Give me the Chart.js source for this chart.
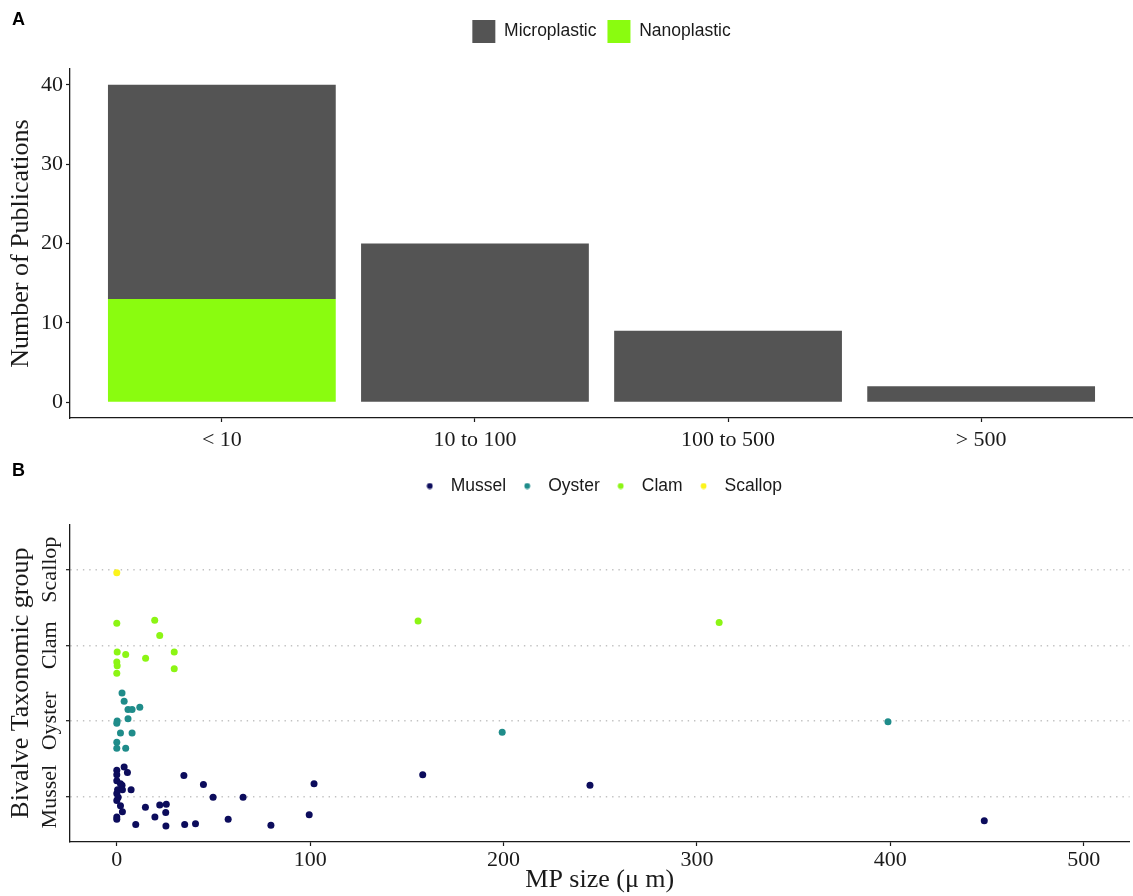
<!DOCTYPE html>
<html>
<head>
<meta charset="utf-8">
<title>Microplastic size in bivalve studies</title>
<script src="https://cdn.jsdelivr.net/npm/chart.js@4.4.1/dist/chart.umd.min.js"></script>
<style>
  body { margin: 0; background: #fff; }
  #page { position: relative; width: 1133px; height: 896px; overflow: hidden; }
  #chartA { position: absolute; left: 0; top: 0; }
  #chartB { position: absolute; left: 0; top: 455px; }
  .tag { position: absolute; left: 12px; font: bold 18px "Liberation Sans", Arial, sans-serif; line-height: 1; color: #000; }
</style>
</head>
<body>
<div id="page">
  <canvas id="chartA" width="1133" height="455"></canvas>
  <canvas id="chartB" width="1133" height="441"></canvas>
  <div class="tag" style="top:10px">A</div>
  <div class="tag" style="top:461px">B</div>
</div>
<script>
// Panel A: number of publications per MP size class
const sizeClasses = ['< 10', '10 to 100', '100 to 500', '> 500'];
const microCounts = [27, 20, 9, 2];
const nanoCounts = [13, 0, 0, 0];
const countTicks = [0, 10, 20, 30, 40];

// Panel B: MP size used per bivalve group (position = group index + jitter)
const speciesNames = ['Mussel', 'Oyster', 'Clam', 'Scallop'];
const musselSize = [0, 3.8, 5.5, 0, 0, 2.7, 1.9, 0.4, 2.9, 7.4, 0, 0.7, 0, 1.9, 2.9, 0, 0, 9.8, 14.8, 19.7, 22.2, 25.6, 25.3, 25.4, 34.7, 35.1, 40.7, 44.8, 49.8, 57.6, 65.3, 79.7, 99.5, 102, 158.2, 244.7, 448.6];
const musselPos = [1.35, 1.39, 1.32, 1.29, 1.21, 1.15, 1.17, 1.09, 1.09, 1.09, 1.04, 0.99, 0.95, 0.88, 0.80, 0.73, 0.70, 0.63, 0.86, 0.73, 0.89, 0.90, 0.79, 0.61, 1.28, 0.63, 0.64, 1.16, 0.99, 0.70, 0.99, 0.62, 0.76, 1.17, 1.29, 1.15, 0.68];
const oysterSize = [2.7, 3.8, 5.8, 7.9, 11.9, 5.8, 0.2, 0, 1.9, 7.9, 0, 0, 4.6, 199.3, 398.8];
const oysterPos = [2.37, 2.26, 2.15, 2.15, 2.18, 2.03, 2.00, 1.97, 1.84, 1.84, 1.72, 1.64, 1.64, 1.85, 1.99];
const clamSize = [0, 19.6, 22.2, 0.2, 4.6, 14.9, 29.7, 0, 0.2, 0, 29.7, 155.8, 311.5];
const clamPos = [3.29, 3.33, 3.13, 2.91, 2.88, 2.83, 2.91, 2.78, 2.73, 2.63, 2.69, 3.32, 3.30];
const scallopSize = [0];
const scallopPos = [3.96];
const sizeTicks = [0, 100, 200, 300, 400, 500];

const SERIF = '"Liberation Serif", "Times New Roman", serif';
const SANS = '"Liberation Sans", Arial, sans-serif';
const INK = '#1a1a1a';
const speciesColors = ['#0c0c5c', '#1f8c8a', '#8cf514', '#fcf41c'];

function toPoints(xs, ys) {
    return xs.map((x, i) => ({ x: x, y: ys[i] }));
}

// small round marker used as legend symbol
function legendDot(color) {
    const c = document.createElement('canvas');
    c.width = 7;
    c.height = 7;
    const g = c.getContext('2d');
    g.fillStyle = color;
    g.beginPath();
    g.arc(3.5, 3.5, 2.9, 0, Math.PI * 2);
    g.fill();
    return c;
}

// adds empty space between the legend and the plot
const legendGap = {
    id: 'legendGap',
    beforeLayout(chart, args, opts) {
        const legend = chart.legend;
        if (!legend || legend._gapDone) return;
        const fit = legend.fit;
        legend.fit = function () {
            fit.call(this);
            this.height += opts.gap || 0;
        };
        legend._gapDone = true;
    }
};

// Panel A
new Chart(document.getElementById('chartA'), {
    type: 'bar',
    data: {
        datasets: [{
            label: 'Nanoplastic',
            data: toPoints(sizeClasses.map((c, i) => i), nanoCounts),
            backgroundColor: '#8afc0f'
        }, {
            label: 'Microplastic',
            data: toPoints(sizeClasses.map((c, i) => i), microCounts),
            backgroundColor: '#545454'
        }]
    },
    options: {
        responsive: false,
        animation: false,
        devicePixelRatio: 1,
        events: [],
        layout: { padding: { top: 9, left: 0, right: 0, bottom: 0 } },
        datasets: { bar: { categoryPercentage: 1, barPercentage: 0.9, borderWidth: 0 } },
        scales: {
            x: {
                type: 'linear',
                stacked: true,
                offset: false,
                min: -0.6,
                max: 3.6,
                afterBuildTicks: s => { s.ticks = sizeClasses.map((c, i) => ({ value: i })); },
                afterFit: s => { s.height = 37; },
                ticks: {
                    callback: v => sizeClasses[v],
                    font: { family: SERIF, size: 22 },
                    color: INK,
                    padding: 5,
                    minRotation: 0,
                    maxRotation: 0,
                    autoSkip: false
                },
                grid: { offset: false, drawOnChartArea: false, tickLength: 4, tickColor: INK, tickWidth: 1.2 },
                border: { color: INK, width: 1.3 }
            },
            y: {
                stacked: true,
                min: -2,
                max: 42,
                afterBuildTicks: s => { s.ticks = countTicks.map(v => ({ value: v })); },
                afterFit: s => { s.width = 70; },
                ticks: { font: { family: SERIF, size: 22 }, color: INK, padding: 3, autoSkip: false },
                grid: { drawOnChartArea: false, tickLength: 4, tickColor: INK, tickWidth: 1.2 },
                border: { color: INK, width: 1.3 },
                title: {
                    display: true,
                    text: 'Number of Publications',
                    font: { family: SERIF, size: 26 },
                    color: INK,
                    padding: { top: 6, bottom: 0 }
                }
            }
        },
        plugins: {
            legend: {
                position: 'top',
                fullSize: false,
                reverse: true,
                labels: {
                    boxWidth: 23,
                    boxHeight: 23,
                    padding: 11,
                    font: { family: SANS, size: 17.5 },
                    color: INK
                }
            },
            legendGap: { gap: 16 },
            tooltip: { enabled: false }
        }
    },
    plugins: [legendGap]
});

// Panel B
const groups = [
    toPoints(musselSize, musselPos),
    toPoints(oysterSize, oysterPos),
    toPoints(clamSize, clamPos),
    toPoints(scallopSize, scallopPos)
];

new Chart(document.getElementById('chartB'), {
    type: 'scatter',
    data: {
        datasets: speciesNames.map((name, i) => ({
            label: name,
            data: groups[i],
            backgroundColor: speciesColors[i],
            pointRadius: 3.5,
            pointHoverRadius: 3.5,
            borderWidth: 0
        }))
    },
    options: {
        responsive: false,
        animation: false,
        devicePixelRatio: 1,
        events: [],
        layout: { padding: { top: 13.5, left: 0, right: 0, bottom: 0 } },
        scales: {
            x: {
                type: 'linear',
                min: -24.2,
                max: 523.7,
                afterBuildTicks: s => { s.ticks = sizeTicks.map(v => ({ value: v })); },
                afterFit: s => { s.height = 54; },
                ticks: {
                    font: { family: SERIF, size: 22 },
                    color: INK,
                    padding: 1.5,
                    minRotation: 0,
                    maxRotation: 0,
                    autoSkip: false
                },
                grid: { drawOnChartArea: false, tickLength: 4, tickColor: INK, tickWidth: 1.2 },
                border: { color: INK, width: 1.3 },
                title: {
                    display: true,
                    text: 'MP size (μ m)',
                    font: { family: SERIF, size: 26 },
                    color: INK,
                    padding: { top: 0, bottom: 0 }
                }
            },
            y: {
                type: 'linear',
                min: 0.4,
                max: 4.6,
                afterBuildTicks: s => { s.ticks = speciesNames.map((n, i) => ({ value: i + 1 })); },
                afterFit: s => { s.width = 70; },
                ticks: {
                    callback: v => speciesNames[v - 1],
                    font: { family: SERIF, size: 22 },
                    color: INK,
                    minRotation: 90,
                    maxRotation: 90,
                    crossAlign: 'center',
                    padding: -17,
                    autoSkip: false
                },
                grid: {
                    color: '#c2c2c2',
                    lineWidth: 1.4,
                    tickLength: 4,
                    tickColor: INK,
                    tickWidth: 1.2
                },
                border: { color: INK, width: 1.3, dash: [1.4, 4.9] },
                title: {
                    display: true,
                    text: 'Bivalve Taxonomic group',
                    font: { family: SERIF, size: 26 },
                    color: INK,
                    padding: { top: 6, bottom: 0 }
                }
            }
        },
        plugins: {
            legend: {
                position: 'top',
                fullSize: false,
                labels: {
                    usePointStyle: true,
                    pointStyleWidth: 24.5,
                    padding: 8.75,
                    font: { family: SANS, size: 17.5 },
                    color: INK,
                    generateLabels(chart) {
                        const items = Chart.defaults.plugins.legend.labels.generateLabels(chart);
                        items.forEach((item, i) => { item.pointStyle = legendDot(speciesColors[i]); });
                        return items;
                    }
                }
            },
            legendGap: { gap: 19.5 },
            tooltip: { enabled: false }
        }
    },
    plugins: [legendGap]
});
</script>
</body>
</html>
